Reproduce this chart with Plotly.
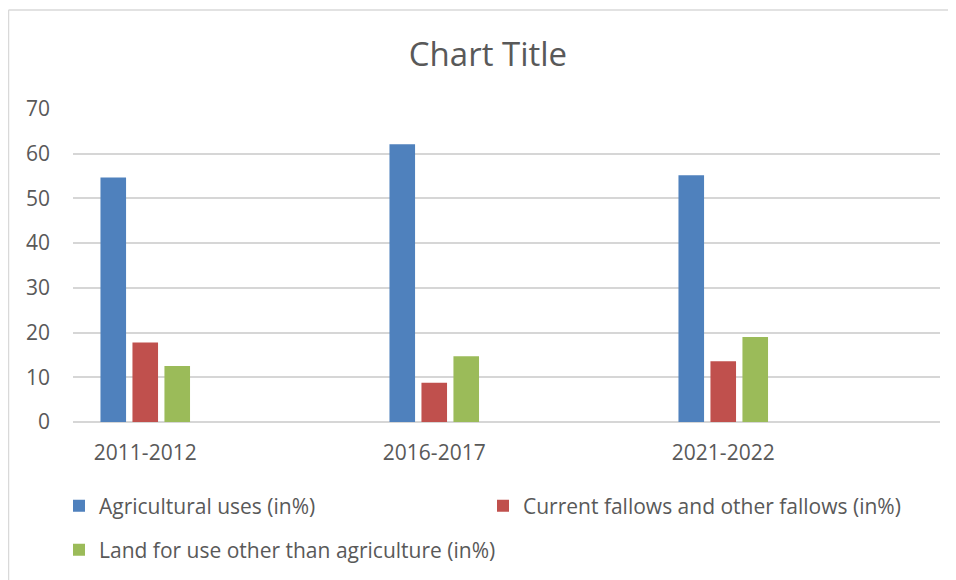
import plotly.graph_objects as go

categories = ["2011-2012", "2016-2017", "2021-2022"]
agri = [54.7, 62.1, 55.2]
fallow = [17.8, 8.8, 13.6]
other = [12.5, 14.7, 19.0]
series_names = [
    "Agricultural uses (in%)",
    "Current fallows and other fallows (in%)",
    "Land for use other than agriculture (in%)",
]
colors = ["#4F81BD", "#C0504D", "#9BBB59"]
y_ticks = [0, 10, 20, 30, 40, 50, 60, 70]

FONT = "Open Sans"
TXT = "#595959"
FS = 21

fig = go.Figure()
for name, vals, col, lg in zip(series_names, [agri, fallow, other], colors,
                               ["legend", "legend", "legend2"]):
    fig.add_trace(go.Bar(x=categories, y=vals, name=name, marker_color=col,
                         marker_line_width=0, legend=lg))

W, H = 956, 580
L, R, T, B = 65, 24, 101, 166
pw, ph = W - L - R, H - T - B

def px_x(px):
    return (px - L) / pw

def px_y(py):
    return (H - B - py) / ph

fig.update_layout(
    width=W, height=H,
    margin=dict(l=L, r=R, t=T, b=B),
    paper_bgcolor="white", plot_bgcolor="white",
    font=dict(family=FONT, color=TXT, size=FS),
    bargap=0.668, bargroupgap=0.2,
    title=dict(text="Chart Title", x=480 / W, xanchor="center",
               y=1 - 46 / H, yanchor="middle",
               font=dict(family=FONT, size=33, color=TXT)),
    xaxis=dict(type="category", range=[-0.25, 2.75], showgrid=False,
               showline=False, zeroline=False, ticks="",
               ticklabelstandoff=16,
               tickfont=dict(family=FONT, size=FS, color=TXT)),
    yaxis=dict(range=[0, 70], tickvals=y_ticks, showgrid=True,
               gridcolor="#D6D6D6", gridwidth=1.5, zeroline=True,
               zerolinecolor="#D6D6D6", zerolinewidth=1.5, showline=False,
               ticklabelstandoff=22,
               tickfont=dict(family=FONT, size=FS, color=TXT)),
    legend=dict(orientation="h", x=px_x(51), xanchor="left",
                y=px_y(498), yanchor="middle", entrywidth=379,
                entrywidthmode="pixels", bgcolor="rgba(0,0,0,0)",
                font=dict(family=FONT, size=FS, color=TXT)),
    legend2=dict(orientation="h", x=px_x(51), xanchor="left",
                 y=px_y(542), yanchor="middle", bgcolor="rgba(0,0,0,0)",
                 font=dict(family=FONT, size=FS, color=TXT)),
    showlegend=True,
    shapes=[
        dict(type="line", xref="paper", yref="paper",
             x0=px_x(0.5), x1=px_x(0.5), y0=px_y(2), y1=px_y(600),
             line=dict(color="#D9D9D9", width=1.5)),
        dict(type="line", xref="paper", yref="paper",
             x0=px_x(0.5), x1=px_x(970), y0=px_y(2), y1=px_y(2),
             line=dict(color="#D9D9D9", width=1.5)),
    ],
)

fig.write_html("out.html")
